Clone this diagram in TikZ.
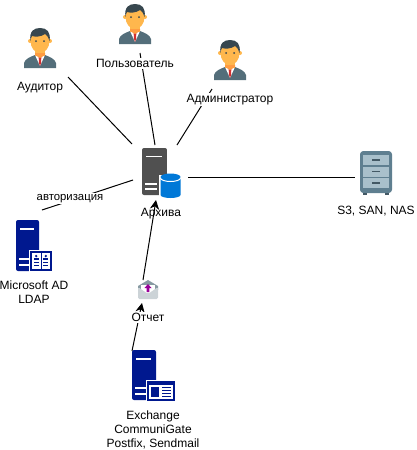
\documentclass[tikz,border=0pt]{standalone}
\usepackage{fontspec}
\setmainfont{Liberation Sans}
\usepackage{xcolor}
\usetikzlibrary{arrows.meta}

\definecolor{suitcol}{HTML}{546E7A}
\definecolor{skincol}{HTML}{FFB74D}
\definecolor{haircol}{HTML}{37474F}
\definecolor{tiecol}{HTML}{D32F2F}
\definecolor{navycol}{HTML}{00188F}
\definecolor{greycol}{HTML}{505050}
\definecolor{bluecol}{HTML}{0078D7}
\definecolor{cabcol}{HTML}{5F7F90}
\definecolor{drawercol}{HTML}{A9C0CB}

\tikzset{
  link/.style={draw=black, line width=0.75pt},
  linkarrow/.style={link, -{Stealth[length=7pt,width=7pt]}},
  lbl/.style={font=\fontsize{9pt}{10.5pt}\selectfont, align=center, inner sep=1pt},
  whitelbl/.style={lbl, fill=white},
  pics/person/.style={code={
    \fill[suitcol] (0,40) -- (0,35) .. controls (1,31) and (6,29) .. (11,27) -- (21,27) .. controls (26,29) and (31,31) .. (32,35) -- (32,40) -- cycle;
    \fill[white] (11,27) -- (21,27) -- (16,38) -- cycle;
    \fill[skincol] (11,22) rectangle (21,28);
    \fill[tiecol] (14.6,28) -- (17.4,28) -- (17,35) -- (16,38) -- (15,35) -- cycle;
    \fill[skincol!85!red] (11,27) -- (16,30) -- (21,27) -- (21,25) -- (11,25) -- cycle;
    \fill[skincol] (6,13) circle (2); \fill[skincol] (26,13) circle (2);
    \fill[skincol] (16,13) ellipse (9.5 and 12);
    \fill[haircol] (6.5,13) .. controls (5,3) and (10,0) .. (16,0) .. controls (23,0) and (27,4) .. (25.5,13) .. controls (24,9) and (23,7) .. (21,6) .. controls (17,9) and (11,9) .. (8,8) .. controls (7,9) and (7,11) .. (6.5,13) -- cycle;
    \fill[haircol] (12,13) circle (1); \fill[haircol] (20,13) circle (1);
  }},
  pics/serverbox/.style={code={
    \fill[#1, rounded corners=1.5pt] (0,0) rectangle (24,50);
    \fill[white] (4,8) rectangle (19,10);
    \fill[white] (3,37) rectangle (14,39);
    \fill[white] (3,43) rectangle (14,45);
  }},
  pics/bookicon/.style={code={
    \fill[white] (-1,-1) rectangle (23,21);
    \fill[navycol] (0,0) rectangle (22,20);
    \fill[white] (2,2) rectangle (10.5,18);
    \fill[white] (11.5,2) rectangle (20,18);
    \foreach \px in {6.2,15.8} {
      \fill[navycol] (\px,5) circle (1.3);
      \fill[navycol] (\px-2.5,9) rectangle (\px+2.5,7);
      \fill[navycol] (\px-2.5,11) rectangle (\px+2.5,12);
      \fill[navycol] (\px-2.5,14) rectangle (\px+2.5,15);
    }
  }},
  pics/cardicon/.style={code={
    \fill[white] (-1,-1) rectangle (29,21);
    \fill[navycol] (0,0) rectangle (28,20);
    \fill[white] (2,4) rectangle (26,18);
    \fill[navycol] (4,6) rectangle (12,15.5);
    \foreach \py in {6,9,12,14.5} {
      \fill[navycol] (15,\py) rectangle (24,\py+1.2);
    }
  }},
  pics/mailicon/.style={code={
    \fill[suitcol!70!white] (0,6) -- (10,0) -- (20,6) -- (20,10) -- (0,10) -- cycle;
    \fill[white] (3,5) rectangle (17,15);
    \fill[suitcol!30!white, rounded corners=1pt] (0,7) -- (10,14) -- (20,7) -- (20,19) -- (0,19) -- cycle;
    \fill[violet!80!magenta] (10,4) -- (13.5,8) -- (11.3,8) -- (11.3,12) -- (8.7,12) -- (8.7,8) -- (6.5,8) -- cycle;
  }},
  pics/cabinet/.style={code={
    \fill[cabcol, rounded corners=2.5pt] (0,0) rectangle (32,42);
    \fill[cabcol!70!black] (3,42) rectangle (7,43.5);
    \fill[cabcol!70!black] (25,42) rectangle (29,43.5);
    \foreach \py in {4,15.5,27} {
      \fill[drawercol] (3,\py) rectangle (29,\py+10);
      \fill[cabcol!70!black] (12,\py+4.2) rectangle (20,\py+5.6);
    }
  }}
}

\begin{document}
\begin{tikzpicture}[x=0.75pt, y=-0.75pt]
\useasboundingbox (0,0) rectangle (417,450);

% link ends
\coordinate (auditorend) at (68,77);
\coordinate (userend) at (140,53);
\coordinate (adminend) at (212,89);
\coordinate (archiveA) at (132,144);
\coordinate (archiveU) at (155,145);
\coordinate (archiveD) at (177,145);
\coordinate (archiveS) at (188,177);
\coordinate (archiveL) at (133,180);
\coordinate (archiveM) at (156,200);
\coordinate (storeend) at (355,177);
\coordinate (ldapend) at (42,210);
\coordinate (mailtop) at (143,280);
\coordinate (mailbot) at (142,303);
\coordinate (exchend) at (132,351);

% links
\draw[link] (auditorend) -- (archiveA);
\draw[link] (userend) -- (archiveU);
\draw[link] (adminend) -- (archiveD);
\draw[link] (archiveS) -- (storeend);
\draw[link] (archiveL) -- (ldapend);
\draw[linkarrow] (mailtop) -- (archiveM);
\draw[linkarrow] (exchend) -- (mailbot);

% icons
\pic at (24,28) {person};
\pic at (119,4) {person};
\pic at (214,40) {person};
\pic[xscale=1.04, yscale=0.94] at (142,148) {serverbox=greycol};
\fill[white] (159,175) rectangle (182,199);
\fill[bluecol] (160.5,178) -- (160.5,195) arc[start angle=180, end angle=0, x radius=10, y radius=3] -- (180.5,178) -- cycle;
\fill[bluecol] (170.5,177) ellipse (10 and 3.5);
\draw[white, line width=0.75pt] (160.5,178) arc[start angle=180, end angle=0, x radius=10, y radius=3.5];
\pic[xscale=0.96, yscale=1.02] at (16,220) {serverbox=navycol};
\pic at (30,251) {bookicon};
\pic at (132,350) {serverbox=navycol};
\pic at (147,381) {cardicon};
\pic at (138,280) {mailicon};
\pic at (360,151) {cabinet};

% labels
\node[whitelbl] (auditor) at (40,87.5) {Аудитор};
\node[whitelbl] (user) at (135,63.5) {Пользователь};
\node[whitelbl] (admin) at (230,99.5) {Администратор};
\node[lbl] (archive) at (161,213.5) {Архива};
\node[whitelbl, font=\fontsize{8.5pt}{10pt}\selectfont] (auth) at (70,198.5) {авторизация};
\node[lbl] (ldap) at (34,292.5) {Microsoft AD\\LDAP};
\node[whitelbl] (report) at (148,317.5) {Отчет};
\node[lbl] (exchange) at (153,429.5) {Exchange\\CommuniGate\\Postfix, Sendmail};
\node[lbl] (store) at (376,211) {S3, SAN, NAS};
\end{tikzpicture}
\end{document}
